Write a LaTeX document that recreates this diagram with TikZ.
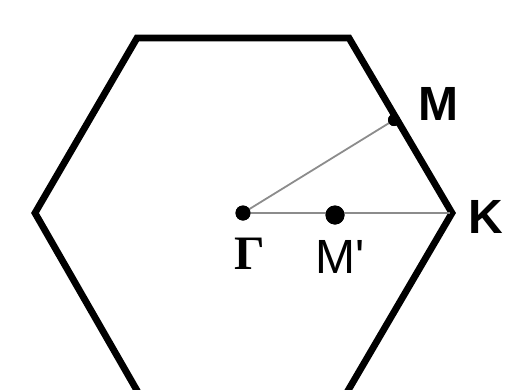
\documentclass[tikz,border=0pt]{standalone}
\usepackage{fontspec}
\setmainfont{Liberation Sans}
\newfontfamily\labfont{Liberation Sans}[Ligatures=ResetAll]
\newfontfamily\serifbold{Liberation Serif}
\begin{document}
\begin{tikzpicture}[x=1pt,y=-1pt,
  hexline/.style={line width=6.8pt,line join=miter},
  thin/.style={line width=1.8pt,draw=black!45},
  dot/.style={circle,fill=black,inner sep=0pt},
  lab/.style={font=\fontsize{48}{48}\selectfont\labfont\bfseries,inner sep=0pt}]
\useasboundingbox (0,0) rectangle (507,389);
\coordinate (v1) at (137,38);
\coordinate (v2) at (349,38);
\coordinate (v3) at (452,213);
\coordinate (v4) at (346,394);
\coordinate (v5) at (139,394);
\coordinate (v6) at (35,213);
\draw[hexline] (v1) -- (v2) -- (v3) -- (v4) -- (v5) -- (v6) -- cycle;
\node[dot,minimum size=15pt] (G) at (243,213) {};
\node[dot,minimum size=19pt] (Mp) at (335,215) {};
\node[dot,minimum size=12pt] (M) at (394,120) {};
\coordinate (K) at (450,213);
\draw[thin] (G.center) -- (M.center);
\draw[thin] (G.center) -- (K);
\node[dot,minimum size=15pt] at (G) {};
\node[dot,minimum size=19pt] at (Mp) {};
\node[dot,minimum size=12pt] at (M) {};
\node[lab] (lM) at (438,104) {M};
\node[lab] (lK) at (486,217) {K};
\node[lab,font=\fontsize{48}{48}\selectfont\serifbold\bfseries] (lG) at (250,254) {Γ};
\node[lab,font=\fontsize{48}{48}\selectfont\labfont] (lMp) at (340,257) {M'};
\end{tikzpicture}
\end{document}
